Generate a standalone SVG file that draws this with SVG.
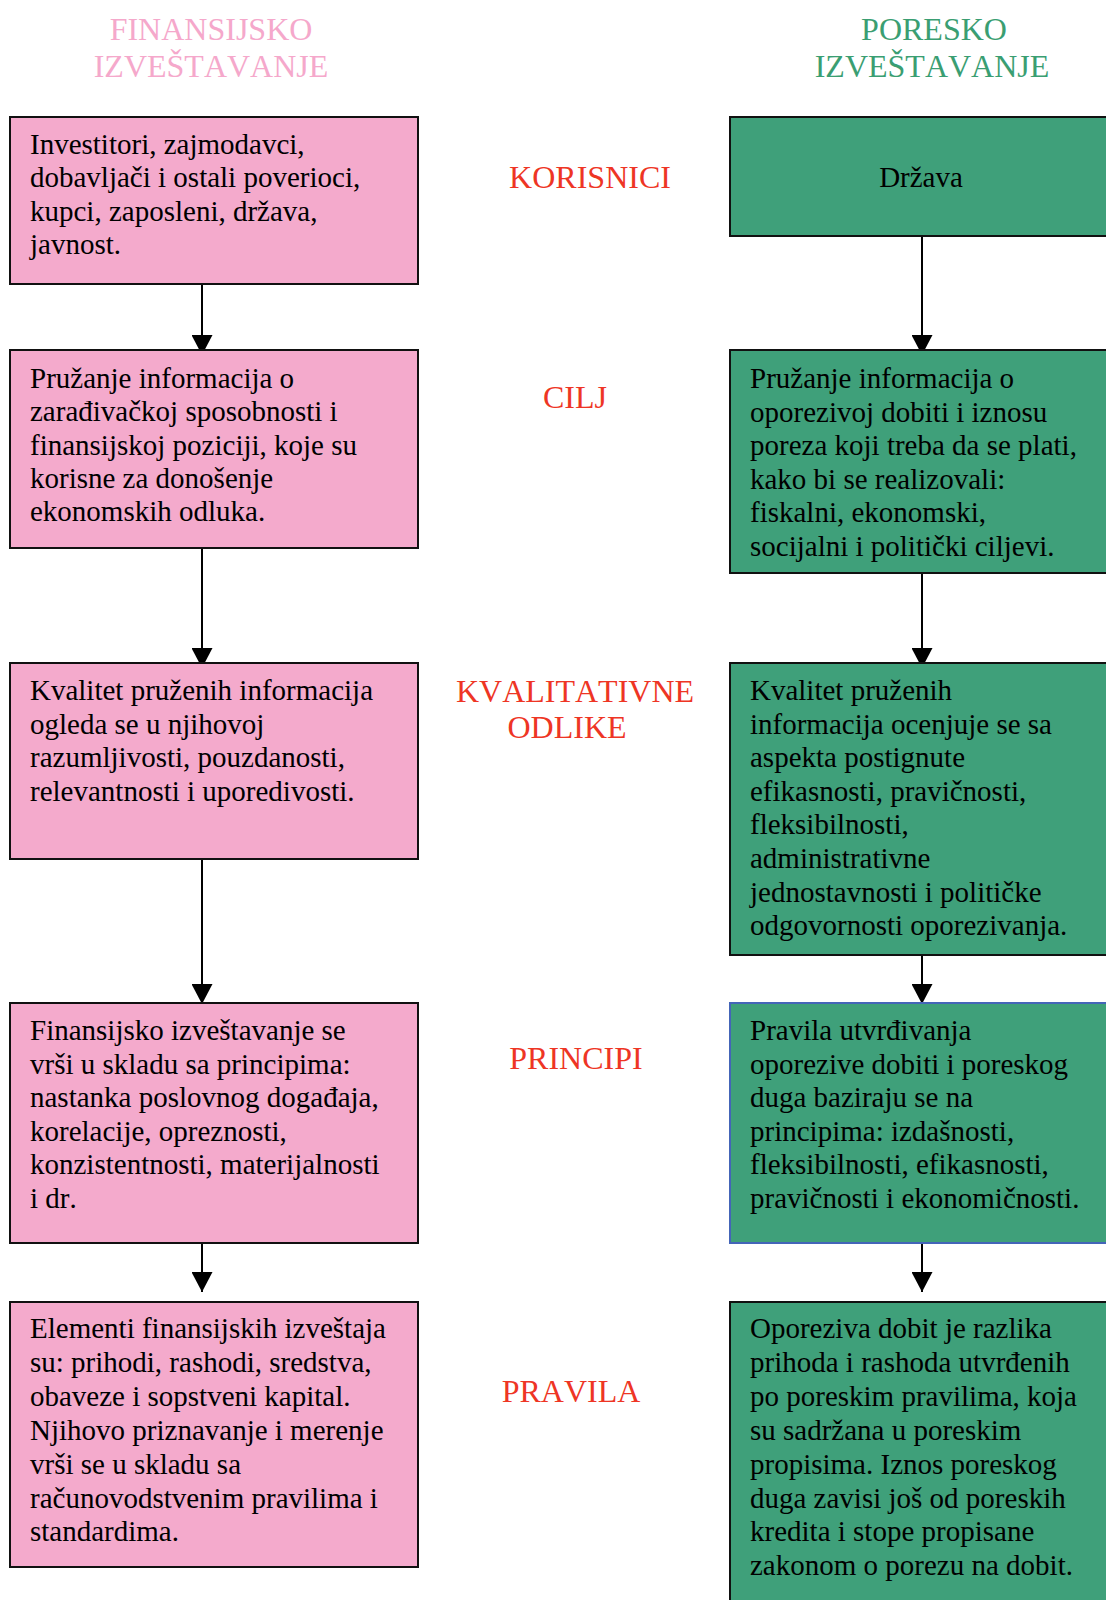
<svg xmlns="http://www.w3.org/2000/svg" width="1106" height="1600" viewBox="0 0 1106 1600">
  <style>
    text { font-family: "Liberation Serif", "Times New Roman", serif; font-kerning: none; }
    .body { font-size: 29px; fill: #000; }
    .head { font-size: 32px; text-anchor: middle; }
    .fin-head { fill: #F5A8CB; }
    .tax-head { fill: #3A9E72; }
    .label { font-size: 32px; fill: #EE3524; text-anchor: middle; }
    .fin { fill: #F4AACC; stroke: #111; stroke-width: 2; }
    .tax { fill: #3FA07A; stroke: #111; stroke-width: 2; }
    .tax-blue { fill: #3FA07A; stroke: #4465B8; stroke-width: 2; }
    .conn { stroke: #000; stroke-width: 2; fill: none; marker-end: url(#arrow); }
  </style>
  <defs>
    <marker id="arrow" markerUnits="userSpaceOnUse" markerWidth="20" markerHeight="21" refX="20" refY="10.5" orient="auto">
      <path d="M0,0 L20,10.5 L0,21 z" fill="#000"/>
    </marker>
  </defs>
  <rect width="1106" height="1600" fill="#fff"/>

  <!-- column headings -->
  <g id="heading-fin">
    <text class="head fin-head" x="211" y="40">FINANSIJSKO</text>
    <text class="head fin-head" x="211" y="77">IZVEŠTAVANJE</text>
  </g>
  <g id="heading-tax">
    <text class="head tax-head" x="934" y="40">PORESKO</text>
    <text class="head tax-head" x="932" y="77">IZVEŠTAVANJE</text>
  </g>

  <!-- row labels -->
  <g id="label-korisnici"><text class="label" x="590" y="188">KORISNICI</text></g>
  <g id="label-cilj"><text class="label" x="575" y="408">CILJ</text></g>
  <g id="label-kvalitativne">
    <text class="label" x="575" y="702">KVALITATIVNE</text>
    <text class="label" x="567" y="738">ODLIKE</text>
  </g>
  <g id="label-principi"><text class="label" x="576" y="1069">PRINCIPI</text></g>
  <g id="label-pravila"><text class="label" x="571" y="1402">PRAVILA</text></g>

  <!-- connectors -->
  <g id="connectors">
    <line class="conn" x1="202" y1="285" x2="202" y2="355"/>
    <line class="conn" x1="202" y1="549" x2="202" y2="668"/>
    <line class="conn" x1="202" y1="860" x2="202" y2="1004"/>
    <line class="conn" x1="202" y1="1244" x2="202" y2="1292"/>
    <line class="conn" x1="922" y1="237" x2="922" y2="355"/>
    <line class="conn" x1="922" y1="573" x2="922" y2="668"/>
    <line class="conn" x1="922" y1="956" x2="922" y2="1004"/>
    <line class="conn" x1="922" y1="1244" x2="922" y2="1292"/>
  </g>

  <!-- financial reporting column -->
  <g id="fin-korisnici">
    <rect class="fin" x="10" y="117" width="408" height="167"/>
    <text class="body" x="30" y="154">
      <tspan x="30">Investitori, zajmodavci,</tspan>
      <tspan x="30" dy="33.4">dobavljači i ostali poverioci,</tspan>
      <tspan x="30" dy="33.4">kupci, zaposleni, država,</tspan>
      <tspan x="30" dy="33.4">javnost.</tspan>
    </text>
  </g>
  <g id="fin-cilj">
    <rect class="fin" x="10" y="350" width="408" height="198"/>
    <text class="body" x="30" y="388">
      <tspan x="30">Pružanje informacija o</tspan>
      <tspan x="30" dy="33.3">zarađivačkoj sposobnosti i</tspan>
      <tspan x="30" dy="33.3">finansijskoj poziciji, koje su</tspan>
      <tspan x="30" dy="33.3">korisne za donošenje</tspan>
      <tspan x="30" dy="33.3">ekonomskih odluka.</tspan>
    </text>
  </g>
  <g id="fin-kvalitativne">
    <rect class="fin" x="10" y="663" width="408" height="196"/>
    <text class="body" x="30" y="700">
      <tspan x="30">Kvalitet pruženih informacija</tspan>
      <tspan x="30" dy="33.5">ogleda se u njihovoj</tspan>
      <tspan x="30" dy="33.5">razumljivosti, pouzdanosti,</tspan>
      <tspan x="30" dy="33.5">relevantnosti i uporedivosti.</tspan>
    </text>
  </g>
  <g id="fin-principi">
    <rect class="fin" x="10" y="1003" width="408" height="240"/>
    <text class="body" x="30" y="1040">
      <tspan x="30">Finansijsko izveštavanje se</tspan>
      <tspan x="30" dy="33.5">vrši u skladu sa principima:</tspan>
      <tspan x="30" dy="33.5">nastanka poslovnog događaja,</tspan>
      <tspan x="30" dy="33.5">korelacije, opreznosti,</tspan>
      <tspan x="30" dy="33.5">konzistentnosti, materijalnosti</tspan>
      <tspan x="30" dy="33.5">i dr.</tspan>
    </text>
  </g>
  <g id="fin-pravila">
    <rect class="fin" x="10" y="1302" width="408" height="265"/>
    <text class="body" x="30" y="1338">
      <tspan x="30">Elementi finansijskih izveštaja</tspan>
      <tspan x="30" dy="33.9">su: prihodi, rashodi, sredstva,</tspan>
      <tspan x="30" dy="33.9">obaveze i sopstveni kapital.</tspan>
      <tspan x="30" dy="33.9">Njihovo priznavanje i merenje</tspan>
      <tspan x="30" dy="33.9">vrši se u skladu sa</tspan>
      <tspan x="30" dy="33.9">računovodstvenim pravilima i</tspan>
      <tspan x="30" dy="33.9">standardima.</tspan>
    </text>
  </g>

  <!-- tax reporting column -->
  <g id="tax-korisnici">
    <rect class="tax" x="730" y="117" width="390" height="119"/>
    <text class="body" x="921" y="187" text-anchor="middle">Država</text>
  </g>
  <g id="tax-cilj">
    <rect class="tax" x="730" y="350" width="390" height="223"/>
    <text class="body" x="750" y="388">
      <tspan x="750">Pružanje informacija o</tspan>
      <tspan x="750" dy="33.5">oporezivoj dobiti i iznosu</tspan>
      <tspan x="750" dy="33.5">poreza koji treba da se plati,</tspan>
      <tspan x="750" dy="33.5">kako bi se realizovali:</tspan>
      <tspan x="750" dy="33.5">fiskalni, ekonomski,</tspan>
      <tspan x="750" dy="33.5">socijalni i politički ciljevi.</tspan>
    </text>
  </g>
  <g id="tax-kvalitativne">
    <rect class="tax" x="730" y="663" width="390" height="292"/>
    <text class="body" x="750" y="700">
      <tspan x="750">Kvalitet pruženih</tspan>
      <tspan x="750" dy="33.6">informacija ocenjuje se sa</tspan>
      <tspan x="750" dy="33.6">aspekta postignute</tspan>
      <tspan x="750" dy="33.6">efikasnosti, pravičnosti,</tspan>
      <tspan x="750" dy="33.6">fleksibilnosti,</tspan>
      <tspan x="750" dy="33.6">administrativne</tspan>
      <tspan x="750" dy="33.6">jednostavnosti i političke</tspan>
      <tspan x="750" dy="33.6">odgovornosti oporezivanja.</tspan>
    </text>
  </g>
  <g id="tax-principi">
    <rect class="tax-blue" x="730" y="1003" width="390" height="240"/>
    <text class="body" x="750" y="1040">
      <tspan x="750">Pravila utvrđivanja</tspan>
      <tspan x="750" dy="33.5">oporezive dobiti i poreskog</tspan>
      <tspan x="750" dy="33.5">duga baziraju se na</tspan>
      <tspan x="750" dy="33.5">principima: izdašnosti,</tspan>
      <tspan x="750" dy="33.5">fleksibilnosti, efikasnosti,</tspan>
      <tspan x="750" dy="33.5">pravičnosti i ekonomičnosti.</tspan>
    </text>
  </g>
  <g id="tax-pravila">
    <rect class="tax" x="730" y="1302" width="390" height="310"/>
    <text class="body" x="750" y="1338">
      <tspan x="750">Oporeziva dobit je razlika</tspan>
      <tspan x="750" dy="33.9">prihoda i rashoda utvrđenih</tspan>
      <tspan x="750" dy="33.9">po poreskim pravilima, koja</tspan>
      <tspan x="750" dy="33.9">su sadržana u poreskim</tspan>
      <tspan x="750" dy="33.9">propisima. Iznos poreskog</tspan>
      <tspan x="750" dy="33.9">duga zavisi još od poreskih</tspan>
      <tspan x="750" dy="33.9">kredita i stope propisane</tspan>
      <tspan x="750" dy="33.9">zakonom o porezu na dobit.</tspan>
    </text>
  </g>
</svg>
